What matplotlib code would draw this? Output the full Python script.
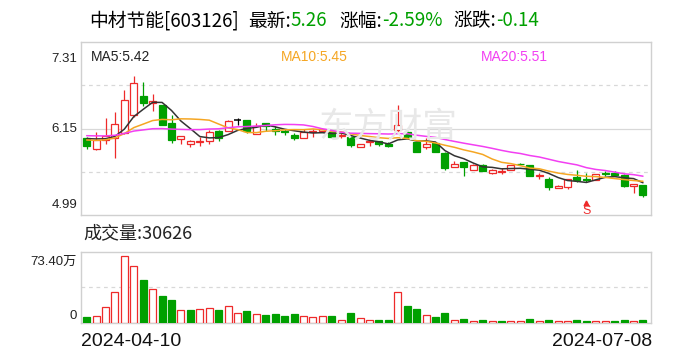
import matplotlib
matplotlib.use("Agg")
import matplotlib.pyplot as plt
from matplotlib.patches import Rectangle
import numpy as np
import pandas as pd

# ---------------- data ----------------
stock_name = "中材节能[603126]"
latest_price = "5.26"
pct_change = "-2.59%"
abs_change = "-0.14"
start_date = "2024-04-10"
end_date = "2024-07-08"
price_min, price_mid, price_max = 4.99, 6.15, 7.31
vol_max_wan = 73.40          # 万手
last_volume = 30626          # 手
ma_names = ["MA5", "MA10", "MA20"]
ma_periods = [5, 10, 20]
ma_values_text = ["5.42", "5.45", "5.51"]

# closes of the 19 sessions before the window (estimated from the MA lines)
prev_closes = [6.05, 6.06, 6.04, 6.05, 6.12, 6.18, 6.20, 6.16, 6.14, 6.13,
               6.05, 5.98, 5.95, 5.96, 5.96, 6.02, 6.04, 6.05, 6.05]

opens = [6.02, 5.87, 6.00, 6.03, 6.09, 6.33, 6.59, 6.49, 6.47, 6.23,
         6.01, 5.95, 5.97, 5.99, 6.12, 6.12, 6.26, 6.27, 6.08, 6.22,
         6.14, 6.115, 6.06, 6.03, 6.10, 6.12, 6.11, 6.05, 6.04, 5.91,
         5.975, 5.99, 5.95, 6.13, 6.10, 5.975, 5.91, 5.96, 5.82, 5.64,
         5.70, 5.60, 5.66, 5.56, 5.567, 5.60, 5.68, 5.66, 5.52, 5.47,
         5.35, 5.37, 5.495, 5.468, 5.46, 5.553, 5.55, 5.527, 5.385, 5.39]
highs = [6.04, 6.11, 6.29, 6.37, 6.67, 6.86, 6.78, 6.62, 6.47, 6.33,
         6.05, 6.00, 6.04, 6.13, 6.13, 6.27, 6.29, 6.27, 6.22, 6.22,
         6.18, 6.14, 6.09, 6.15, 6.15, 6.16, 6.12, 6.09, 6.05, 5.95,
         6.02, 5.99, 5.975, 6.47, 6.13, 5.975, 6.02, 5.96, 5.83, 5.71,
         5.70, 5.67, 5.67, 5.61, 5.625, 5.66, 5.69, 5.66, 5.55, 5.495,
         5.39, 5.475, 5.59, 5.55, 5.54, 5.585, 5.58, 5.535, 5.40, 5.39]
lows = [5.87, 5.86, 5.95, 5.75, 6.08, 6.31, 6.46, 6.39, 6.20, 5.96,
        5.95, 5.90, 5.92, 5.95, 5.98, 6.12, 6.20, 6.09, 6.08, 6.12,
        6.07, 6.07, 6.00, 6.03, 6.04, 6.10, 6.02, 6.02, 5.91, 5.91,
        5.92, 5.92, 5.90, 6.10, 6.02, 5.83, 5.88, 5.84, 5.59, 5.64,
        5.52, 5.60, 5.585, 5.545, 5.54, 5.60, 5.655, 5.52, 5.48, 5.33,
        5.35, 5.34, 5.44, 5.44, 5.46, 5.52, 5.52, 5.37, 5.29, 5.23]
closes = [5.92, 6.00, 6.05, 6.21, 6.54, 6.76, 6.49, 6.52, 6.20, 6.00,
          6.05, 5.98, 5.99, 6.11, 6.02, 6.25, 6.26, 6.12, 6.19, 6.18,
          6.12, 6.10, 6.02, 6.10, 6.12, 6.14, 6.04, 6.06, 5.93, 5.95,
          5.985, 5.94, 5.92, 6.20, 6.02, 5.84, 5.95, 5.84, 5.625, 5.675,
          5.64, 5.66, 5.585, 5.59, 5.576, 5.66, 5.675, 5.52, 5.53, 5.36,
          5.38, 5.475, 5.465, 5.455, 5.54, 5.545, 5.525, 5.385, 5.40, 5.26]
volumes_wan = [5.86, 7.58, 16.9, 32.4, 68.9, 58.6, 44.1, 35.5, 27.6, 23.4,
               13.8, 13.1, 14.8, 15.9, 13.1, 17.9, 10.7, 12.1, 9.6, 7.9,
               9.0, 6.9, 9.0, 7.6, 6.5, 7.6, 7.6, 3.4, 10.0, 5.5,
               3.4, 2.8, 2.8, 31.4, 17.2, 14.1, 8.6, 5.9, 10.0, 3.4,
               3.8, 2.4, 2.8, 2.4, 1.7, 1.7, 1.7, 3.8, 1.7, 2.8,
               1.7, 1.7, 2.8, 1.7, 1.7, 1.7, 1.7, 2.8, 1.7, 3.0626]
signal_index = 53    # "S" marker session

# ---------------- style ----------------
RED = "#ee2a2a"
GREEN = "#00a000"
MA_COLORS = ["#333333", "#f5a623", "#f23ff2"]
GRID = "#d8d8d8"
BORDER = "#d0d0d0"
CJK = ["Noto Sans CJK SC", "DejaVu Sans"]
LAT = ["Liberation Sans", "Noto Sans CJK SC"]

W, H = 688, 360
fig = plt.figure(figsize=(W / 100, H / 100), dpi=100)
fig.patch.set_facecolor("white")


def fx(px):
    return px / W


def fy(py):
    return 1 - py / H


ax = fig.add_axes([fx(81), fy(215), 570 / W, (215 - 42.3) / H])
axv = fig.add_axes([fx(81), fy(323), 570 / W, (323 - 251.7) / H])

n = len(closes)
x = np.arange(n)
for a in (ax, axv):
    a.set_xlim(-0.6, n - 0.15)
    a.set_xticks([])
    a.set_yticks([])
    for s in a.spines.values():
        s.set_color(BORDER)
        s.set_linewidth(1.0)

ax.set_ylim(price_min, price_max)
axv.set_ylim(0, vol_max_wan)

# grid
q1 = price_min + (price_max - price_min) * 0.25
q3 = price_min + (price_max - price_min) * 0.75
for yv in (q1, q3):
    ax.axhline(yv, color=GRID, lw=0.9, ls=(0, (3, 3)), zorder=0.5)
ax.axhline(price_mid, color=GRID, lw=0.9, zorder=0.5)
axv.axhline(vol_max_wan / 2, color=GRID, lw=0.9, ls=(0, (3, 3)), zorder=0.5)

# watermark
fig.text(fx(388), fy(127), "东方财富", fontsize=25, color="#e8e8e8",
         family=CJK, ha="center", va="center", zorder=0.1)

# candles
w = 0.74
for i in range(n):
    o, h, l, c = opens[i], highs[i], lows[i], closes[i]
    if c > o:
        col, face = RED, "white"
    elif c < o:
        col, face = GREEN, GREEN
    else:
        col, face = "black", "black"
    ax.vlines(x[i], l, h, color=col, lw=0.9, zorder=2)
    bottom = min(o, c)
    height = abs(c - o)
    if height < 0.004:
        ax.hlines((o + c) / 2, x[i] - w / 2, x[i] + w / 2, color=col, lw=1.1, zorder=3)
    else:
        ax.add_patch(Rectangle((x[i] - w / 2, bottom), w, height, facecolor=face,
                               edgecolor=col, lw=0.9, zorder=3))

# moving averages
all_closes = pd.Series(prev_closes + closes)
offset = len(prev_closes)
for per, colr in zip(ma_periods, MA_COLORS):
    ma = all_closes.rolling(per).mean().iloc[offset:].to_numpy()
    ax.plot(x, ma, color=colr, lw=1.1, zorder=4, solid_capstyle="round")

# S marker
ax.plot([x[signal_index]], [5.145], marker="^", color=RED, ms=3.5, zorder=5)
ax.text(x[signal_index], 5.04, "S", color=RED, fontsize=9, ha="center",
        va="center", family=LAT, zorder=5)

# volume bars
ref = [prev_closes[-1]] + closes[:-1]
for i in range(n):
    up = closes[i] >= ref[i]
    if up:
        axv.bar(x[i], volumes_wan[i], width=w, facecolor="white", edgecolor=RED,
                lw=0.9, zorder=3)
    else:
        axv.bar(x[i], volumes_wan[i], width=w, facecolor=GREEN, edgecolor=GREEN,
                lw=0.9, zorder=3)

# ---------------- texts ----------------
renderer = fig.canvas.get_renderer()


def seq_text(x0, yc, pieces, size):
    xp = x0
    for s, col, gap in pieces:
        t = fig.text(fx(xp), fy(yc), s, color=col, fontsize=size, family=CJK,
                     ha="left", va="center")
        bb = t.get_window_extent(renderer)
        xp += bb.width + gap


seq_text(89, 21, [(stock_name, "black", 9), ("最新:", "black", 0),
                  (latest_price, GREEN, 12), ("涨幅:", "black", 0),
                  (pct_change, GREEN, 11), ("涨跌:", "black", 0),
                  (abs_change, GREEN, 0)], 13.5)

for name, val, colr, xp in zip(ma_names, ma_values_text, MA_COLORS, [91, 281, 481]):
    fig.text(fx(xp), fy(57), f"{name}:{val}", color=colr if name != "MA5" else "#222222",
             fontsize=10, family=LAT, ha="left", va="center")

for val, yp in zip([price_max, price_mid, price_min], [59, 129, 205]):
    fig.text(fx(77), fy(yp), f"{val:.2f}", fontsize=9.5, family=LAT,
             ha="right", va="center", color="#222222")

fig.text(fx(83), fy(233.5), f"成交量:{last_volume}", fontsize=13, family=CJK,
         ha="left", va="center", color="#222222")
fig.text(fx(77), fy(261.5), f"{vol_max_wan:.2f}万", fontsize=9.5, family=LAT,
         ha="right", va="center", color="#222222")
fig.text(fx(77), fy(316), "0", fontsize=9.5, family=LAT, ha="right", va="center",
         color="#222222")

fig.text(fx(81), fy(341), start_date, fontsize=14, family=LAT, ha="left",
         va="center", color="#111111")
fig.text(fx(652), fy(341), end_date, fontsize=14, family=LAT, ha="right",
         va="center", color="#111111")

fig.savefig("out.png", dpi=100, facecolor="white")
